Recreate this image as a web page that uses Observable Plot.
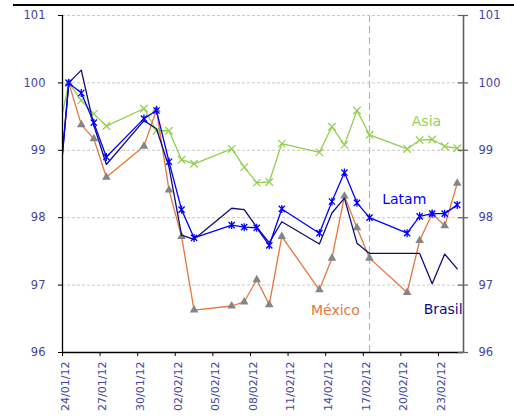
<!DOCTYPE html>
<html>
<head>
<meta charset="utf-8">
<script src="https://cdn.jsdelivr.net/npm/d3@7"></script>
<script src="https://cdn.jsdelivr.net/npm/@observablehq/plot@0.6"></script>
<style>
  body { margin: 0; background: #fff; }
  #wrap { position: relative; width: 514px; height: 416px; }
  #topline { position: absolute; left: 13px; right: 0; top: 4px; height: 2px; background: #000; }
</style>
</head>
<body>
<div id="wrap"><div id="topline"></div></div>
<script>
// Trading days (index base 100 on 24/01/12)
const dates = [
  "2012-01-23", "2012-01-24", "2012-01-25", "2012-01-26", "2012-01-27",
  "2012-01-30", "2012-01-31", "2012-02-01", "2012-02-02", "2012-02-03",
  "2012-02-06", "2012-02-07", "2012-02-08", "2012-02-09", "2012-02-10",
  "2012-02-13", "2012-02-14", "2012-02-15", "2012-02-16", "2012-02-17",
  "2012-02-20", "2012-02-21", "2012-02-22", "2012-02-23", "2012-02-24"
];
const asia = [
  99.10, 100, 99.74, 99.54, 99.36,
  99.62, 99.29, 99.29, 98.86, 98.80,
  99.02, 98.75, 98.52, 98.53, 99.10,
  98.97, 99.35, 99.08, 99.59, 99.23,
  99.02, 99.15, 99.16, 99.06, 99.03
];
const latam = [
  97.90, 100, 99.85, 99.41, 98.90,
  99.47, 99.59, 98.83, 98.12, 97.70,
  97.89, 97.86, 97.85, 97.59, 98.13,
  97.77, 98.24, 98.67, 98.22, 98.00,
  97.77, 98.02, 98.06, 98.06, 98.19
];
const mexico = [
  98.00, 100, 99.38, 99.17, 98.60,
  99.06, 99.60, 98.41, 97.72, 96.63,
  96.69, 96.75, 97.08, 96.71, 97.72,
  96.93, 97.40, 98.32, 97.85, 97.40,
  96.89, 97.66, 98.06, 97.88, 98.51
];
const brasil = [
  97.90, 100, 100.19, 99.37, 98.79,
  99.44, 99.32, 98.75, 97.74, 97.68,
  98.14, 98.12, 97.86, 97.63, 97.94,
  97.61, 98.07, 98.29, 97.62, 97.47,
  97.47, 97.47, 97.02, 97.46, 97.24
];
const tickDates = [
  "2012-01-24", "2012-01-27", "2012-01-30", "2012-02-02", "2012-02-05", "2012-02-08",
  "2012-02-11", "2012-02-14", "2012-02-17", "2012-02-20", "2012-02-23"
];
const yTicks = [96, 97, 98, 99, 100, 101];
const gridValues = [97, 98, 99, 100, 101];

const day = s => new Date(s + "T00:00:00Z");
const noon = s => new Date(s + "T12:00:00Z");   // points sit in the middle of each day
const fmt = d3.utcFormat("%d/%m/%y");
const xStart = day("2012-01-24"), xEnd = day("2012-02-25");

const rows = vals => dates.map((d, i) => ({date: noon(d), value: vals[i]}));

const labelColor = "#44449e";
const cAsia = "#92d050", cLatam = "#0000ff", cMexico = "#e5763c", cBrasil = "#0c0c7c";

// Excel-style star marker: a cross with a vertical bar
const star = {
  draw(ctx, size) {
    const r = Math.sqrt(size / Math.PI), q = r * 0.78;
    ctx.moveTo(0, -r); ctx.lineTo(0, r);
    ctx.moveTo(-q, -q); ctx.lineTo(q, q);
    ctx.moveTo(-q, q); ctx.lineTo(q, -q);
  }
};

const chart = Plot.plot({
  width: 514,
  height: 416,
  marginLeft: 62,
  marginRight: 51,
  marginTop: 15,
  marginBottom: 64,
  style: {fontFamily: "DejaVu Sans", fontSize: "11px", background: "transparent"},
  x: {type: "utc", domain: [xStart, xEnd], axis: null},
  y: {domain: [96, 101], label: null},
  marks: [
    Plot.ruleY(gridValues, {stroke: "#c8c8c8", strokeDasharray: "3,2", strokeWidth: 1}),
    Plot.ruleX([noon("2012-02-17")], {stroke: "#b4b4b4", strokeDasharray: "7,4", strokeWidth: 1.2}),

    Plot.line(rows(asia), {x: "date", y: "value", stroke: cAsia, strokeWidth: 1.3, clip: true}),
    Plot.dot(rows(asia), {x: "date", y: "value", symbol: "times", r: 3.5, stroke: cAsia, strokeWidth: 1.2, clip: true}),

    Plot.line(rows(mexico), {x: "date", y: "value", stroke: cMexico, strokeWidth: 1.3, clip: true}),
    Plot.dot(rows(mexico), {x: "date", y: "value", symbol: "triangle", r: 3.2, fill: "#858585", stroke: "none", clip: true}),

    Plot.line(rows(brasil), {x: "date", y: "value", stroke: cBrasil, strokeWidth: 1.3, clip: true}),

    Plot.line(rows(latam), {x: "date", y: "value", stroke: cLatam, strokeWidth: 1.3, clip: true}),
    Plot.dot(rows(latam), {x: "date", y: "value", symbol: star, r: 4, stroke: cLatam, strokeWidth: 1.3, clip: true}),

    // series labels
    Plot.text(["Asia"], {x: new Date("2012-02-22T01:00:00Z"), y: 99.43, text: d => d, fill: cAsia, fontSize: 14}),
    Plot.text(["Latam"], {x: new Date("2012-02-20T06:30:00Z"), y: 98.27, text: d => d, fill: cLatam, fontSize: 14}),
    Plot.text(["México"], {x: new Date("2012-02-14T18:40:00Z"), y: 96.62, text: d => d, fill: cMexico, fontSize: 14}),
    Plot.text(["Brasil"], {x: new Date("2012-02-23T09:00:00Z"), y: 96.64, text: d => d, fill: cBrasil, fontSize: 14}),

    // axis lines
    Plot.ruleX([xStart], {stroke: "#000", strokeWidth: 1.3}),
    Plot.ruleX([xEnd], {stroke: "#606060", strokeWidth: 1.6}),
    Plot.ruleY([96], {x1: xStart, x2: xEnd, stroke: "#000", strokeWidth: 1.3}),

    // left axis
    Plot.axisY(yTicks, {anchor: "left", label: null, tickSize: 4, tickPadding: 13, stroke: "#000", fill: labelColor, fontSize: 11.5, tickFormat: d => d}),
    // right axis: ticks cross the line, labels outside
    Plot.ruleY(yTicks, {x1: xEnd, x2: xEnd, insetLeft: -5, insetRight: -5, stroke: "#606060", strokeWidth: 1.2}),
    Plot.axisY(yTicks, {anchor: "right", label: null, tickSize: 0, tickPadding: 15, fill: labelColor, fontSize: 11.5, tickFormat: d => d}),

    // bottom axis: ticks at day boundaries, labels centred in the day
    Plot.ruleX(tickDates.map(day), {y1: 96, y2: 96, insetBottom: -4, stroke: "#000", strokeWidth: 1}),
    Plot.text(tickDates, {x: noon, frameAnchor: "bottom", rotate: -90, textAnchor: "end", dy: 9, text: d => fmt(day(d)), fill: labelColor, fontSize: 11})
  ]
});

document.getElementById("wrap").appendChild(chart);
chart.style.position = "absolute";
chart.style.left = "0";
chart.style.top = "0";
</script>
</body>
</html>
